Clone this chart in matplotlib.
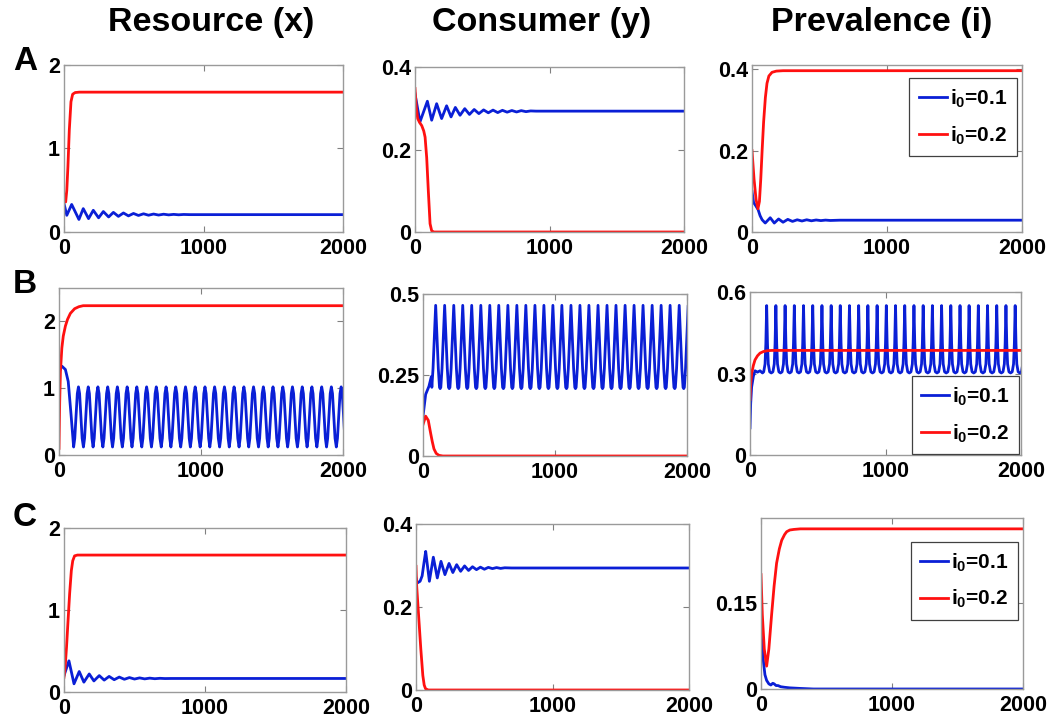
import matplotlib
matplotlib.use('Agg')
import matplotlib.pyplot as plt

plt.rcParams['font.family'] = ['Liberation Sans', 'DejaVu Sans']
plt.rcParams['font.weight'] = 'bold'
plt.rcParams['mathtext.fontset'] = 'custom'
plt.rcParams['mathtext.rm'] = 'Liberation Sans:bold'
plt.rcParams['mathtext.it'] = 'Liberation Sans:bold'
plt.rcParams['mathtext.default'] = 'rm'

col_titles = ['Resource (x)', 'Consumer (y)', 'Prevalence (i)']
row_letters = ['A', 'B', 'C']
labels = ['i$_0$=0.1', 'i$_0$=0.2']

# ---- row A ----
ax_blue_t = [0, 20, 55, 107, 138, 176, 210, 248, 282, 320, 354, 390, 426, 462, 498, 534, 570, 606, 642, 678, 714, 750, 786, 822, 858, 900, 2000]
ax_blue_v = [0.34, 0.20, 0.33, 0.15, 0.28, 0.16, 0.26, 0.17, 0.245, 0.18, 0.235, 0.187, 0.228, 0.193, 0.222, 0.198, 0.218, 0.201, 0.215, 0.203, 0.213, 0.205, 0.211, 0.206, 0.21, 0.208, 0.208]
ax_red_t = [0, 5, 12, 20, 28, 38, 50, 62, 80, 110, 2000]
ax_red_v = [0.45, 0.37, 0.36, 0.5, 0.78, 1.22, 1.56, 1.65, 1.67, 1.675, 1.675]

ay_blue_t = [0, 37, 92, 124, 161, 198, 235, 268, 300, 335, 370, 405, 440, 475, 510, 545, 580, 615, 650, 685, 720, 755, 790, 825, 860, 900, 2000]
ay_blue_v = [0.335, 0.267, 0.317, 0.271, 0.311, 0.275, 0.306, 0.279, 0.302, 0.283, 0.299, 0.285, 0.297, 0.287, 0.296, 0.289, 0.2955, 0.2895, 0.295, 0.2905, 0.2945, 0.291, 0.2942, 0.2918, 0.2935, 0.293, 0.293]
ay_red_t = [0, 10, 20, 35, 50, 65, 75, 87, 99, 112, 124, 140, 2000]
ay_red_v = [0.348, 0.30, 0.275, 0.265, 0.258, 0.245, 0.23, 0.18, 0.10, 0.02, 0.003, 0, 0]

ai_blue_t = [0, 12, 25, 45, 60, 75, 98, 135, 165, 197, 230, 265, 300, 335, 370, 405, 440, 475, 510, 545, 580, 650, 2000]
ai_blue_v = [0.1, 0.072, 0.066, 0.055, 0.04, 0.03, 0.022, 0.035, 0.022, 0.032, 0.024, 0.031, 0.026, 0.030, 0.027, 0.030, 0.0275, 0.0295, 0.028, 0.0292, 0.0283, 0.029, 0.029]
ai_red_t = [0, 15, 30, 44, 55, 65, 75, 86, 99, 111, 125, 148, 180, 230, 2000]
ai_red_v = [0.2, 0.13, 0.08, 0.057, 0.075, 0.13, 0.2, 0.27, 0.33, 0.365, 0.383, 0.392, 0.395, 0.396, 0.396]

# ---- row B (limit cycles) ----
bx_blue_start_t = [0, 20, 45, 65, 85]
bx_blue_start_v = [1.25, 1.33, 1.28, 1.1, 0.6]
bx_peaks = [137, 206, 274, 343, 411, 480, 548, 617, 685, 754, 822, 891, 959, 1028,
            1096, 1165, 1233, 1302, 1370, 1439, 1507, 1576, 1644, 1713, 1781, 1850, 1918, 1987]
bx_cycle_off = [-34, -26, -17, -8, 0, 8, 17, 26]
bx_cycle_v = [0.12, 0.25, 0.58, 0.92, 1.02, 0.92, 0.58, 0.25]
bx_red_t = [0, 5, 10, 20, 30, 45, 60, 80, 110, 140, 170, 2000]
bx_red_v = [0.1, 0.8, 1.25, 1.6, 1.78, 1.93, 2.03, 2.12, 2.19, 2.22, 2.235, 2.235]

by_blue_start_t = [0, 20, 45, 63]
by_blue_start_v = [0.123, 0.19, 0.215, 0.245]
by_peaks = [96, 164, 233, 301, 369, 438, 506, 574, 643, 711, 779, 848, 916, 984,
            1052, 1121, 1189, 1257, 1326, 1394, 1462, 1531, 1599, 1667, 1736, 1804, 1872, 1941, 2009]
by_cycle_off = [-34, -29, -20, -10, 0, 10, 20, 29]
by_cycle_v = [0.208, 0.212, 0.27, 0.365, 0.465, 0.365, 0.27, 0.212]
by_red_t = [0, 20, 40, 58, 70, 83, 100, 121, 150, 2000]
by_red_v = [0.097, 0.123, 0.11, 0.07, 0.045, 0.022, 0.008, 0.002, 0, 0]

bi_blue_start_t = [0, 5, 12, 25, 37, 55, 74, 92]
bi_blue_start_v = [0.1, 0.19, 0.25, 0.29, 0.31, 0.305, 0.31, 0.302]
bi_peaks = [123, 191, 259, 327, 395, 463, 531, 599, 666, 734, 802, 870, 938, 1006,
            1074, 1142, 1210, 1278, 1346, 1414, 1482, 1550, 1617, 1685, 1753, 1821, 1889, 1957, 2025]
bi_cycle_off = [-34, -22, -12, -6, 0, 6, 12, 22]
bi_cycle_v = [0.302, 0.306, 0.335, 0.41, 0.55, 0.41, 0.335, 0.306]
bi_red_t = [0, 5, 12, 25, 37, 55, 74, 100, 130, 160, 2000]
bi_red_v = [0.204, 0.26, 0.30, 0.33, 0.35, 0.365, 0.375, 0.381, 0.384, 0.385, 0.385]

# ---- row C ----
cx_blue_t = [0, 35, 71, 108, 141, 179, 212, 250, 285, 320, 356, 392, 428, 464, 500, 536, 572, 608, 644, 680, 716, 760, 2000]
cx_blue_v = [0.2, 0.38, 0.10, 0.25, 0.12, 0.22, 0.135, 0.20, 0.145, 0.19, 0.15, 0.182, 0.155, 0.176, 0.158, 0.172, 0.16, 0.169, 0.162, 0.167, 0.164, 0.165, 0.165]
cx_red_t = [0, 8, 18, 28, 40, 52, 62, 75, 95, 2000]
cx_red_v = [0.18, 0.3, 0.55, 0.85, 1.2, 1.48, 1.6, 1.66, 1.67, 1.67]

cy_blue_t = [0, 10, 30, 45, 60, 71, 98, 127, 156, 183, 212, 242, 270, 298, 327, 356, 385, 414, 443, 472, 501, 530, 560, 590, 620, 650, 700, 2000]
cy_blue_v = [0.27, 0.258, 0.262, 0.275, 0.31, 0.334, 0.262, 0.32, 0.27, 0.31, 0.278, 0.305, 0.283, 0.302, 0.286, 0.299, 0.288, 0.297, 0.29, 0.296, 0.291, 0.2955, 0.2925, 0.295, 0.293, 0.2945, 0.294, 0.294]
cy_red_t = [0, 5, 15, 25, 35, 50, 60, 70, 90, 2000]
cy_red_v = [0.298, 0.25, 0.2, 0.15, 0.1, 0.035, 0.012, 0.003, 0, 0]

ci_blue_t = [0, 10, 20, 30, 43, 60, 75, 90, 100, 115, 130, 150, 180, 220, 300, 400, 2000]
ci_blue_v = [0.1, 0.07, 0.045, 0.025, 0.015, 0.009, 0.007, 0.01, 0.009, 0.006, 0.006, 0.004, 0.003, 0.002, 0.001, 0.0, 0.0]
ci_red_t = [0, 10, 25, 43, 60, 81, 100, 119, 140, 158, 180, 196, 220, 250, 300, 350, 2000]
ci_red_v = [0.2, 0.13, 0.07, 0.04, 0.07, 0.13, 0.18, 0.22, 0.245, 0.26, 0.27, 0.275, 0.278, 0.279, 0.28, 0.28, 0.28]


def tile(start_t, start_v, peaks, offs, vals):
    # repeat the cycle shape
    t = list(start_t)
    v = list(start_v)
    for p in peaks:
        for o, val in zip(offs, vals):
            if p + o > t[-1]:
                t.append(p + o)
                v.append(val)
    return t, v


bx_blue = tile(bx_blue_start_t, bx_blue_start_v, bx_peaks, bx_cycle_off, bx_cycle_v)
by_blue = tile(by_blue_start_t, by_blue_start_v, by_peaks, by_cycle_off, by_cycle_v)
bi_blue = tile(bi_blue_start_t, bi_blue_start_v, bi_peaks, bi_cycle_off, bi_cycle_v)

series = [
    [((ax_blue_t, ax_blue_v), (ax_red_t, ax_red_v)),
     ((ay_blue_t, ay_blue_v), (ay_red_t, ay_red_v)),
     ((ai_blue_t, ai_blue_v), (ai_red_t, ai_red_v))],
    [(bx_blue, (bx_red_t, bx_red_v)),
     (by_blue, (by_red_t, by_red_v)),
     (bi_blue, (bi_red_t, bi_red_v))],
    [((cx_blue_t, cx_blue_v), (cx_red_t, cx_red_v)),
     ((cy_blue_t, cy_blue_v), (cy_red_t, cy_red_v)),
     ((ci_blue_t, ci_blue_v), (ci_red_t, ci_red_v))],
]

ylims = [[2, 0.4, 0.41], [2.5, 0.5, 0.6], [2, 0.4, 0.299]]
yticks = [[[0, 1, 2], [0, 0.2, 0.4], [0, 0.2, 0.4]],
          [[0, 1, 2], [0, 0.25, 0.5], [0, 0.3, 0.6]],
          [[0, 1, 2], [0, 0.2, 0.4], [0, 0.15]]]
ytick_labels = [[['0', '1', '2'], ['0', '0.2', '0.4'], ['0', '0.2', '0.4']],
                [['0', '1', '2'], ['0', '0.25', '0.5'], ['0', '0.3', '0.6']],
                [['0', '1', '2'], ['0', '0.2', '0.4'], ['0', '0.15']]]

# axes boxes in pixels: left, right, top, bottom
boxes = [[(64, 343, 65, 232), (415, 684, 67, 232), (752, 1022, 65, 232)],
         [(59, 343, 288, 455), (423, 687, 294, 456), (750, 1021, 292, 455)],
         [(64, 346, 528, 692), (416, 689, 524, 690), (761, 1023, 518, 689)]]

W, H = 1047, 720
fig = plt.figure(figsize=(W / 100, H / 100), dpi=100)

legend_pos = [('upper right', (0.981, 0.922)), ('lower right', (0.993, 0.006)), ('upper right', (0.981, 0.860))]

for r in range(3):
    for c in range(3):
        l, rt, t, b = boxes[r][c]
        ax = fig.add_axes([l / W, 1 - b / H, (rt - l) / W, (b - t) / H])
        blue, red = series[r][c]
        ax.plot(blue[0], blue[1], color='#0a1fd6', lw=2.0, label=labels[0])
        ax.plot(red[0], red[1], color='#ff1010', lw=2.0, label=labels[1])
        ax.set_xlim(0, 2000)
        ax.set_ylim(0, ylims[r][c])
        ax.set_xticks([0, 1000, 2000])
        ax.set_xticklabels(['0', '1000', '2000'])
        ax.set_yticks(yticks[r][c])
        ax.set_yticklabels(ytick_labels[r][c])
        ax.tick_params(direction='in', length=4, width=0.8, color='#808080',
                       top=True, right=True, labelsize=15.5)
        ax.tick_params(axis='x', pad=4)
        ax.tick_params(axis='y', pad=3)
        for lab in ax.get_xticklabels() + ax.get_yticklabels():
            lab.set_fontweight('bold')
        for s in ax.spines.values():
            s.set_color('#9a9a9a')
            s.set_linewidth(1.0)
        if c == 2:
            loc, anchor = legend_pos[r]
            leg = ax.legend(loc=loc, bbox_to_anchor=anchor, borderaxespad=0,
                            fancybox=False, framealpha=1, edgecolor='#404040',
                            prop={'size': 15, 'weight': 'bold'},
                            handlelength=1.35, handletextpad=0.15,
                            labelspacing=0.7, borderpad=0.45)
            leg.get_frame().set_linewidth(0.9)

title_x = [211, 542, 882]
for c in range(3):
    fig.text(title_x[c] / W, 1 - 22 / H, col_titles[c], ha='center', va='center',
             fontsize=24.5, fontweight='bold')

letter_y = [61, 285, 518]
for r in range(3):
    fig.text(25 / W, 1 - letter_y[r] / H, row_letters[r], ha='center', va='center',
             fontsize=24, fontweight='bold')

fig.savefig('out.png', dpi=100)
